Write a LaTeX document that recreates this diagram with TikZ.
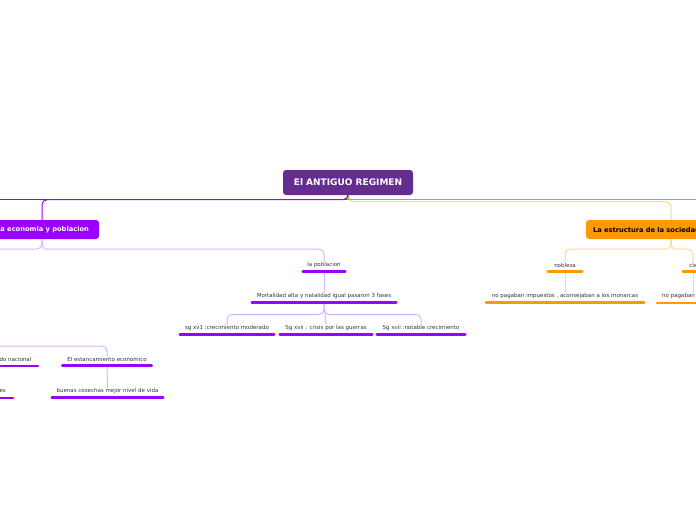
\documentclass[tikz,border=0pt]{standalone}
\usepackage{fontspec}
\setmainfont{DejaVu Sans}
\definecolor{cMain}{RGB}{102,45,145}
\definecolor{cPurple}{RGB}{153,0,255}
\definecolor{cLav}{RGB}{222,178,255}
\definecolor{cOrange}{RGB}{255,153,0}
\definecolor{cLOrange}{RGB}{255,214,150}
\definecolor{cGreen}{RGB}{130,210,0}
\definecolor{cBlue}{RGB}{30,70,220}
\definecolor{cText}{RGB}{51,51,51}
\begin{document}
\begin{tikzpicture}[x=1pt,y=-1pt,
  txt/.style={font=\fontsize{5.5}{6.5}\selectfont, text=cText, inner sep=0pt},
  bar/.style={line width=2.6pt, line cap=round},
  conn/.style={line width=1pt, rounded corners=5pt},
  topic/.style={rounded corners=3pt, minimum height=19pt, inner xsep=7pt, font=\bfseries\fontsize{6.7}{8}\selectfont}
]
\useasboundingbox (0,0) rectangle (696,520);

% root
\node[fill=cMain, rounded corners=3pt, minimum width=130pt, minimum height=25pt, text=white,
  font=\bfseries\fontsize{9}{10}\selectfont] (root) at (348,182.5) {El ANTIGUO REGIMEN};

% main topics
\node[topic, fill=cPurple, text=white, inner xsep=10pt, text width=94pt, align=right] (eco) at (42,229.5) {La economia y poblacion};
\node[topic, fill=cOrange, text=black, text width=156pt, align=left] (soc) at (671,229.5) {La estructura de la sociedad};

% off-screen ends
\coordinate (offL) at (-30,199.5);
\coordinate (offR) at (730,199.5);
\coordinate (offL2) at (-30,249);
\coordinate (offL3) at (-30,346);

% root connectors
\draw[cBlue, line width=1pt] (root.south) |- (offL);
\draw[cLOrange, conn] (root.south) -- ++(0,6.5) -| (soc.north);
\draw[cGreen, line width=1.1pt] (root.south) |- (offR);
\draw[cPurple, conn] (root.south) -- ++(0,4.5) -| (eco.north);

% economia branch
\node[txt, minimum width=42pt] (pob) at (324,265) {la poblacion};
\node[txt, minimum width=144pt] (mort) at (324,296) {Mortalidad alta y natalidad igual pasaron 3 fases};
\node[txt, minimum width=94pt] (f1) at (227,328) {sg xv1 :crecimiento moderado};
\node[txt, minimum width=92pt] (f2) at (326,328) {Sg xvii : crisis por las guerras};
\node[txt, minimum width=88pt] (f3) at (421,328) {Sg xvii :notable crecimiento};
\node[txt, minimum width=89pt] (est) at (107,359) {El estancamiento economico};
\node[txt, anchor=east] (merc) at (31.5,359) {mercado nacional};
\node[txt, minimum width=111pt] (cos) at (107.5,391) {buenas cosechas mejor nivel de vida};
\node[txt, anchor=east] (es) at (6,391) {es};

\draw[cLav, conn] (eco.south) -- ++(0,10) -| (pob.north);
\draw[cLav, conn] (eco.south) |- (offL2);
\draw[cLav, conn] ([yshift=-6.5pt]pob.center) -- (mort.north);
\draw[cLav, conn] ([yshift=-6.5pt]mort.center) -- ++(0,12) -| (f1.north);
\draw[cLav, conn] ([yshift=-6.5pt]mort.center) -- ++(0,12) -| (f3.north);
\draw[cLav, conn] ([yshift=-6.5pt]mort.center) -- (f2.north);
\draw[cLav, conn] (offL3) -| (est.north);
\draw[cLav, conn] ([yshift=-7pt]est.center) -- (cos.north);

\foreach \n in {pob,mort,f1,f2,f3,est,cos}
  \draw[bar, cPurple] ([yshift=-6.5pt]\n.west) -- ([yshift=-6.5pt]\n.east);
\draw[bar, cPurple] (-40,366) -- (38,366);
\draw[bar, cPurple] (-40,398) -- (13,398);

% sociedad branch
\node[txt, minimum width=34pt] (nob) at (565,265) {nobleza};
\node[txt, minimum width=26pt] (cle) at (696,265) {clero};
\node[txt, minimum width=158pt] (nob2) at (565,296) {no pagaban impuestos , aconsejaban a los monarcas};
\node[txt, anchor=west] (cle2) at (662,296) {no pagaban impuestos};

\draw[cLOrange, conn] (soc.south) -- ++(0,10) -| (nob.north);
\draw[cLOrange, conn] (soc.south) -- ++(0,10) -| ([xshift=-3pt]cle.north);
\draw[cLOrange, conn] ([yshift=-6.5pt]nob.center) -- (nob2.north);
\draw[cLOrange, conn] ([yshift=-6.5pt,xshift=-3pt]cle.center) -- ([xshift=-3pt]cle.center |- cle2.north);

\foreach \n in {nob,cle,nob2}
  \draw[bar, cOrange] ([yshift=-6.5pt]\n.west) -- ([yshift=-6.5pt]\n.east);
\draw[bar, cOrange] (657,303) -- (740,303);
\end{tikzpicture}
\end{document}
